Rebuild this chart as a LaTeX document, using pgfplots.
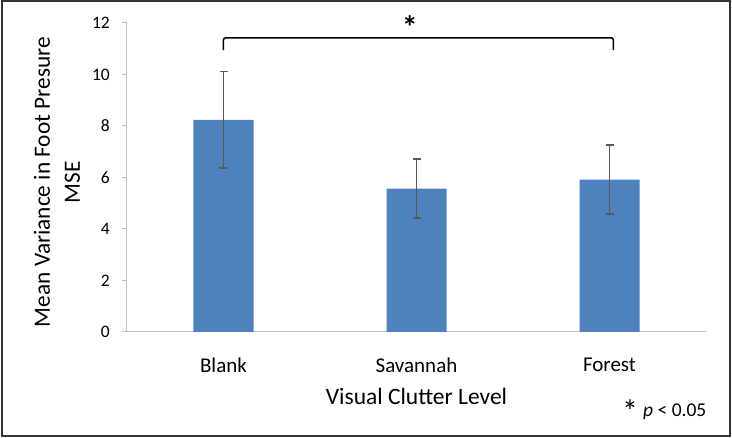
\documentclass[border=0pt]{standalone}
\usepackage{fontspec}
\setmainfont{Carlito}
\usepackage{pgfplots}
\pgfplotsset{compat=1.18}
\definecolor{barblue}{HTML}{4F81BD}
\definecolor{errgray}{HTML}{595959}
\definecolor{axgray}{HTML}{BFBFBF}
\begin{document}
\begin{tikzpicture}
\useasboundingbox (0,0) rectangle (732pt,438pt);
\draw[line width=1.4pt, color=black!80] (2pt,2pt) rectangle (730pt,437pt);
\begin{axis}[
  at={(127pt,106pt)}, anchor=south west,
  scale only axis, width=579pt, height=309pt,
  xmin=-0.5, xmax=2.5, ymin=0, ymax=12,
  clip=false,
  axis x line*=bottom, axis y line*=left,
  axis line style={draw=axgray, line width=1pt},
  xtick={0,1,2}, xticklabels={Blank,Savannah,Forest},
  major x tick style={draw=none},
  ytick={0,2,4,6,8,10,12},
  tick align=outside,
  major tick length=5pt,
  y tick style={draw=axgray, line width=1pt},
  /pgf/number format/assume math mode=true,
  yticklabel style={font=\fontsize{17.5}{20}\selectfont, anchor=east, inner sep=0pt, xshift=-12pt},
  xticklabel style={font=\fontsize{21}{24}\selectfont, anchor=center, inner sep=0pt, yshift=-28pt},
  xlabel={Visual Clutter Level},
  xlabel style={font=\fontsize{23.5}{26}\selectfont, at={(axis description cs:0.5,-0.207)}, anchor=center, inner sep=0pt},
  ylabel={Mean Variance in Foot Presure\\MSE},
  ylabel style={font=\fontsize{23.3}{30}\selectfont, align=center, at={(axis description cs:-0.1209,0.485)}, anchor=center, inner sep=0pt, rotate=0},
]
\addplot[ybar, bar width=60pt, fill=barblue, draw=none,
  error bars/.cd, y dir=both, y explicit,
  error bar style={line width=1.5pt, color=errgray},
  error mark options={rotate=90, mark size=4pt, line width=1.5pt, color=errgray}]
  coordinates {
    (0,8.24) +- (0,1.87)
    (1,5.57) +- (0,1.15)
    (2,5.92) +- (0,1.34)
  };
\draw[line width=1.5pt, rounded corners=2pt] (axis cs:0,10.95) -- (axis cs:0,11.42) -- (axis cs:2.02,11.42) -- (axis cs:2.02,10.95);
\node[font=\fontsize{32}{34}\selectfont\bfseries, inner sep=0pt] at (axis cs:0.966,11.85) {*};
\end{axis}
\node[font=\fontsize{32}{34}\selectfont, inner sep=0pt] at (630pt,27pt) {*};
\node[font=\fontsize{19.5}{22}\selectfont, inner sep=0pt, anchor=west] at (643pt,26pt) {\textit{p} < 0.05};
\end{tikzpicture}
\end{document}
